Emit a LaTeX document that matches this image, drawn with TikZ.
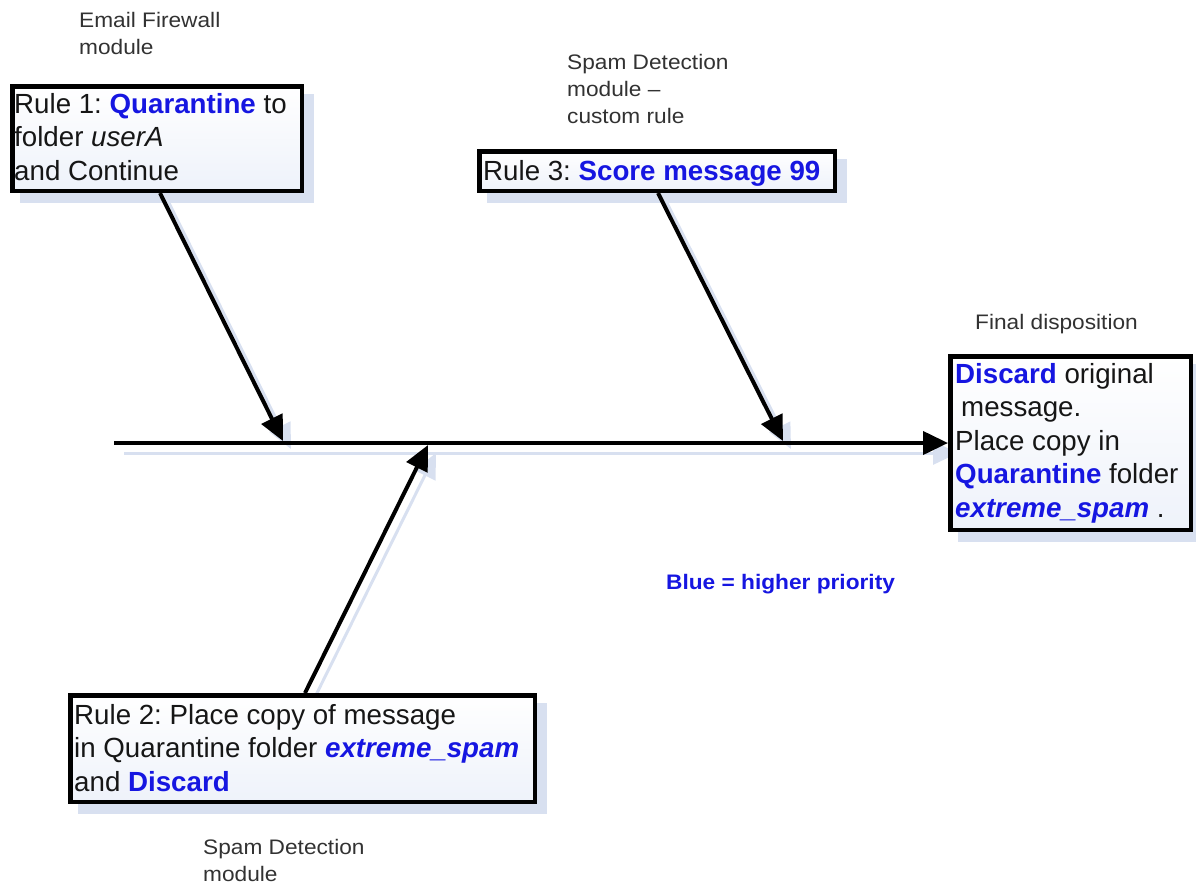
\documentclass[tikz,border=0pt]{standalone}
\usepackage{fontspec}
\setmainfont{Liberation Sans}
\newfontfamily\lblfont[FakeStretch=1.08]{Liberation Sans}
\usetikzlibrary{arrows.meta,calc}
\definecolor{rblue}{RGB}{22,22,225}
\definecolor{tblack}{RGB}{22,22,22}
\definecolor{lgray}{RGB}{50,50,50}
\definecolor{shadowcol}{RGB}{216,224,240}
\definecolor{boxfill}{RGB}{238,242,250}
\pgfdeclarelayer{shadowlayer}
\pgfdeclarelayer{linelayer}
\pgfsetlayers{shadowlayer,linelayer,main}
\frenchspacing
\begin{document}
\begin{tikzpicture}[x=1pt,y=-1pt,
  box/.style={draw=black, line width=4.5pt, top color=white, bottom color=boxfill, inner sep=0pt, anchor=north west},
  txt/.style={anchor=north west, inner sep=0pt, align=left, text=tblack, font=\fontsize{27.7}{33.5}\selectfont},
  lbl/.style={anchor=north west, inner sep=0pt, align=left, text=lgray, font=\lblfont\fontsize{21}{27}\selectfont},
  conn/.style={line width=4pt, draw=black, -{Triangle[length=25pt,width=23pt]}},
  sconn/.style={line width=3pt, draw=shadowcol, -{Triangle[length=25pt,width=23pt]}},
  bshadow/.style={fill=shadowcol}]
\useasboundingbox (0,0) rectangle (1196,884);

% boxes
\node[box, minimum width=289.5pt, minimum height=104.5pt] (box1) at (10,84) {};
\node[box, minimum width=355.5pt, minimum height=39.5pt] (box3) at (477,149) {};
\node[box, minimum width=240.5pt, minimum height=173.5pt] (final) at (948,354) {};
\node[box, minimum width=464.5pt, minimum height=106.5pt] (box2) at (68,693) {};

% box texts
\node[txt] (t1) at (14,92.8) {Rule 1: {\bfseries\color{rblue}Quarantine} to\\folder \textit{userA}\\and Continue};
\node[txt] (t3) at (483,159.8) {Rule 3: {\bfseries\color{rblue}Score message 99}};
\node[txt] (t4) at (955,363) {{\bfseries\color{rblue}Discard} original\\\hspace*{6pt}message.\\Place copy in\\{\bfseries\color{rblue}Quarantine} folder\\{\bfseries\itshape\color{rblue}extreme\_spam} .};
\node[txt] (t2) at (74,704) {Rule 2: Place copy of message\\in Quarantine folder {\bfseries\itshape\color{rblue}extreme\_spam}\\and {\bfseries\color{rblue}Discard}};

% labels
\node[lbl] (l1) at (79,12) {Email Firewall\\module};
\node[lbl] (l3) at (567,54) {Spam Detection\\module –\\custom rule};
\node[lbl] (l4) at (975,314) {Final disposition};
\node[lbl] (l2) at (203,839) {Spam Detection\\module};
\node[lbl, text=rblue, font=\lblfont\bfseries\fontsize{21}{27}\selectfont] (l5) at (666,574) {Blue = higher priority};

% connector end points
\coordinate (sp0) at (114,443);
\coordinate (a1) at ($(box1.south west)+(150,0)$);
\coordinate (j1) at (283,441);
\coordinate (a3) at ($(box3.south west)+(181,0)$);
\coordinate (j3) at (783,441);
\coordinate (a2) at ($(box2.north west)+(237,0)$);
\coordinate (j2) at (428,445);

\begin{pgfonlayer}{shadowlayer}
  \fill[bshadow] ([xshift=10pt,yshift=-10pt]box1.south west) rectangle ([xshift=10pt,yshift=-10pt]box1.north east);
  \fill[bshadow] ([xshift=10pt,yshift=-10pt]box3.south west) rectangle ([xshift=10pt,yshift=-10pt]box3.north east);
  \fill[bshadow] ([xshift=10pt,yshift=-10pt]final.south west) rectangle ([xshift=10pt,yshift=-10pt]final.north east);
  \fill[bshadow] ([xshift=10pt,yshift=-10pt]box2.south west) rectangle ([xshift=10pt,yshift=-10pt]box2.north east);
  \draw[sconn] ([xshift=10pt,yshift=-10pt]sp0) -- ([xshift=10pt,yshift=-10pt]final.west);
  \draw[sconn] ([xshift=8pt,yshift=-8pt]a1) -- ([xshift=8pt,yshift=-8pt]j1);
  \draw[sconn] ([xshift=8pt,yshift=-8pt]a3) -- ([xshift=8pt,yshift=-8pt]j3);
  \draw[sconn] ([xshift=8pt,yshift=-8pt]a2) -- ([xshift=8pt,yshift=-8pt]j2);
\end{pgfonlayer}

\begin{pgfonlayer}{linelayer}
  \draw[conn] (sp0) -- (final.west);
  \draw[conn] (a1) -- (j1);
  \draw[conn] (a3) -- (j3);
  \draw[conn] (a2) -- (j2);
\end{pgfonlayer}
\end{tikzpicture}
\end{document}
